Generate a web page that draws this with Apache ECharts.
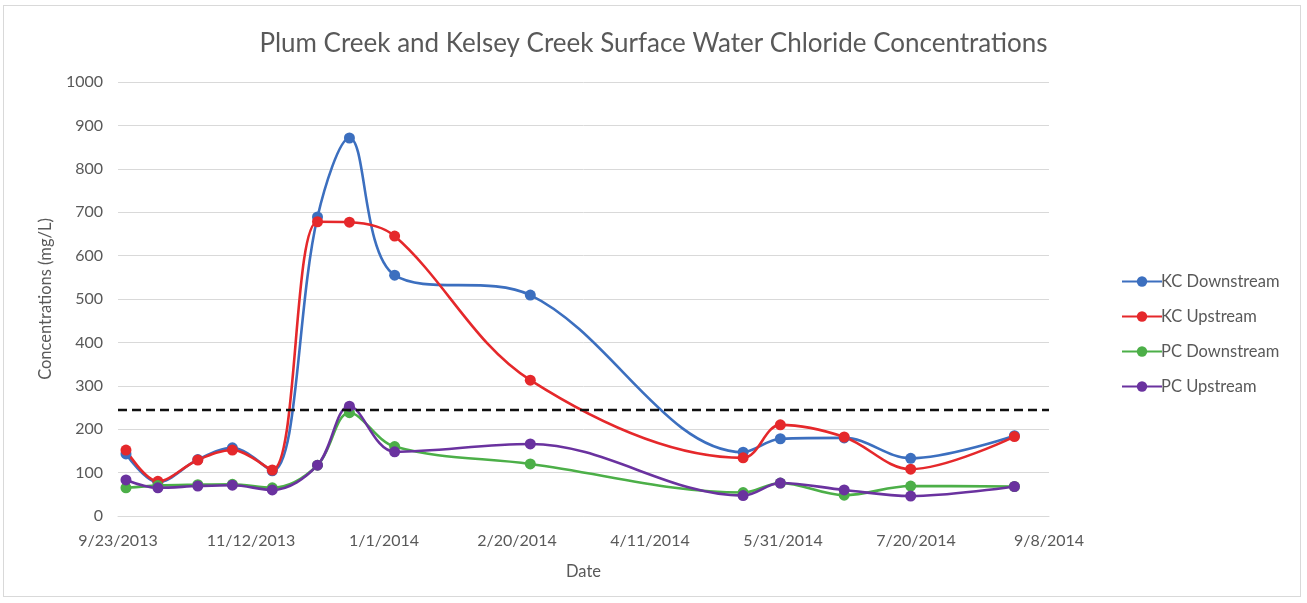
<!DOCTYPE html>
<html>
<head>
<meta charset="utf-8">
<script src="https://cdn.jsdelivr.net/npm/echarts@6/dist/echarts.min.js"></script>
<style>
  html, body { margin: 0; padding: 0; background: #fff; }
  #frame { position: absolute; left: 3px; top: 5px; width: 1298px; height: 592px; border: 1px solid #d9d9d9; box-sizing: border-box; }
  #chart { position: absolute; left: 0; top: 0; width: 1307px; height: 603px; }
</style>
</head>
<body>
<div id="frame"></div>
<div id="chart"></div>
<script>
// Sampling dates (M/D/YYYY)
const sampleDates = ['9/26/2013', '10/8/2013', '10/23/2013', '11/5/2013', '11/20/2013', '12/7/2013', '12/19/2013',
  '1/5/2014', '2/25/2014', '5/16/2014', '5/30/2014', '6/23/2014', '7/18/2014', '8/26/2014'];

// Chloride concentrations, mg/L
const kcDownstream = [143, 78, 130, 157, 104, 689, 871, 555, 509, 147, 178, 180, 133, 185];
const kcUpstream   = [152, 80, 129, 152, 106, 678, 677, 645, 313, 134, 210, 182, 108, 183];
const pcDownstream = [65, 70, 72, 73, 65, 117, 238, 160, 120, 54, 76, 48, 69, 68];
const pcUpstream   = [83, 65, 69, 71, 60, 117, 253, 148, 166, 47, 76, 60, 46, 68];

// Reference concentration shown as a dashed line
const referenceLevel = 245;

// Axis range: first tick date, days span, tick step in days
const axisStartDate = '9/23/2013';
const axisSpanDays = 350;
const tickStepDays = 50;

const yTicks = { min: 0, max: 1000, interval: 100 };

function toUTC(s) {
  const [m, d, y] = s.split('/').map(Number);
  return Date.UTC(y, m - 1, d);
}
const DAY = 86400000;
const start = toUTC(axisStartDate);
const dayOffset = s => Math.round((toUTC(s) - start) / DAY);
function dayLabel(v) {
  const dt = new Date(start + v * DAY);
  return (dt.getUTCMonth() + 1) + '/' + dt.getUTCDate() + '/' + dt.getUTCFullYear();
}
const xs = sampleDates.map(dayOffset);
const pairs = vals => vals.map((v, i) => [xs[i], v]);

const textColor = '#595959';
const font = 'Lato, "Open Sans", sans-serif';

function series(name, color, vals) {
  return {
    name, type: 'line', data: pairs(vals), smooth: 0.35,
    symbol: 'circle', symbolSize: 11, showSymbol: true,
    lineStyle: { color, width: 2.6 },
    itemStyle: { color },
    emphasis: { disabled: true }
  };
}

const chart = echarts.init(document.getElementById('chart'), null, { renderer: 'canvas' });
const s1 = series('KC Downstream', '#3c6fbf', kcDownstream);
const s2 = series('KC Upstream', '#e5282b', kcUpstream);
const s3 = series('PC Downstream', '#4caf48', pcDownstream);
const s4 = series('PC Upstream', '#6a329f', pcUpstream);
s4.markLine = {
  silent: true, symbol: 'none', label: { show: false },
  lineStyle: { color: '#111', type: [9, 5], width: 2.4 },
  emphasis: { disabled: true },
  data: [{ yAxis: referenceLevel }]
};

chart.setOption({
  animation: false,
  backgroundColor: 'transparent',
  title: {
    text: 'Plum Creek and Kelsey Creek Surface Water Chloride Concentrations',
    left: 'center', top: 26,
    textStyle: { color: textColor, fontSize: 26, fontWeight: 'normal', fontFamily: font }
  },
  legend: {
    orient: 'vertical', left: 1116, top: 268,
    itemWidth: 40, itemHeight: 13, itemGap: 18,
    textStyle: { color: textColor, fontSize: 16.5, fontFamily: font, padding: [0, 0, 0, -6] },
    data: ['KC Downstream', 'KC Upstream', 'PC Downstream', 'PC Upstream']
  },
  grid: { left: 118, right: 258, top: 82, bottom: 87, containLabel: false },
  xAxis: {
    type: 'value', min: 0, max: axisSpanDays, interval: tickStepDays,
    name: 'Date', nameLocation: 'middle', nameGap: 47,
    nameTextStyle: { color: textColor, fontSize: 16.5, fontFamily: font },
    axisLine: { show: true, lineStyle: { color: '#d9d9d9', width: 1 } },
    axisTick: { show: false },
    splitLine: { show: false },
    axisLabel: { color: textColor, fontSize: 16, fontFamily: font, margin: 17, formatter: dayLabel }
  },
  yAxis: {
    type: 'value', min: yTicks.min, max: yTicks.max, interval: yTicks.interval,
    name: 'Concentrations (mg/L)', nameLocation: 'middle', nameGap: 64, nameRotate: 90,
    nameTextStyle: { color: textColor, fontSize: 16.5, fontFamily: font },
    axisLine: { show: false }, axisTick: { show: false },
    splitLine: { lineStyle: { color: '#d9d9d9', width: 1 } },
    axisLabel: { color: textColor, fontSize: 16, fontFamily: font, margin: 15, formatter: v => String(v) }
  },
  series: [s1, s2, s3, s4]
});
</script>
</body>
</html>
